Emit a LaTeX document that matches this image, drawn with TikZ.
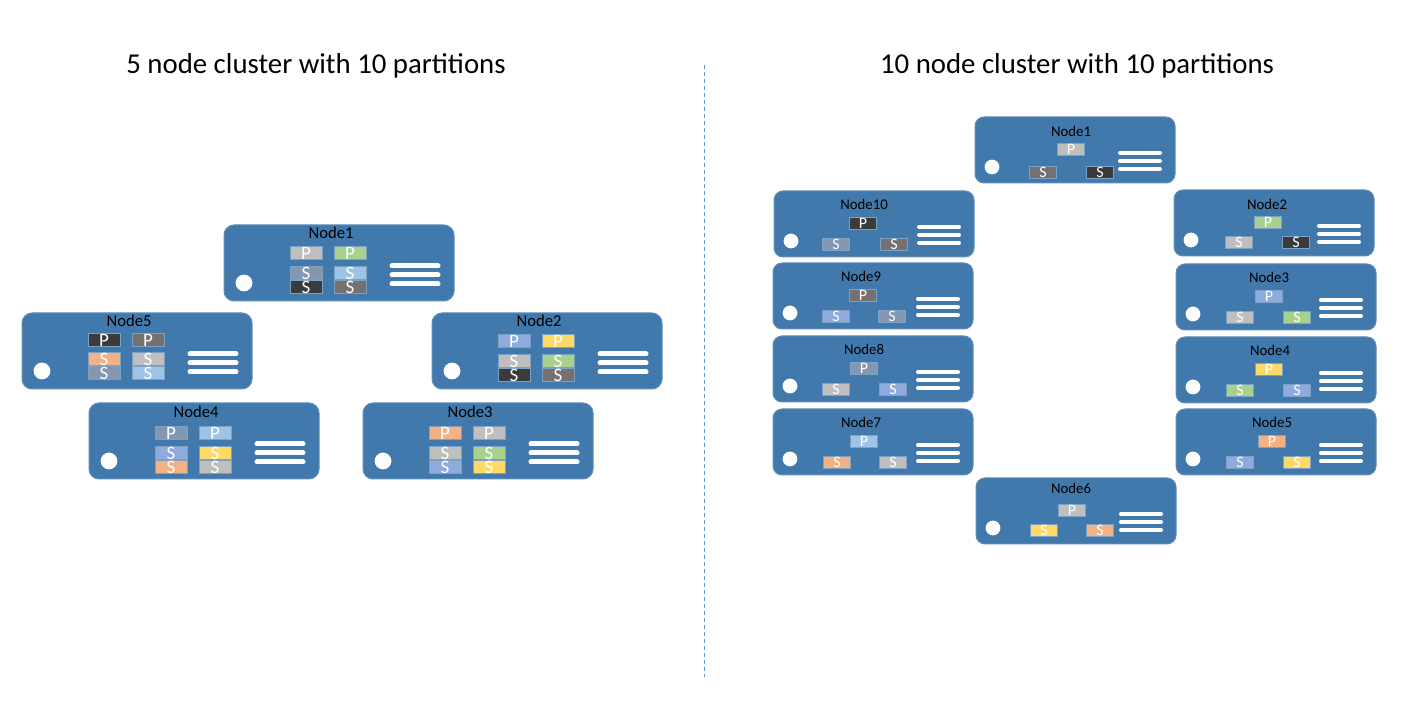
\documentclass[tikz,border=0pt]{standalone}
\usepackage{fontspec}
\setmainfont{Carlito}
\usetikzlibrary{calc}
\definecolor{srvblue}{HTML}{4279AC}
\definecolor{cgray}{HTML}{BFBFBF}
\definecolor{cgreen}{HTML}{A9D18E}
\definecolor{cslate}{HTML}{8497B0}
\definecolor{csky}{HTML}{9DC3E6}
\definecolor{cdark}{HTML}{3B3B3B}
\definecolor{cdim}{HTML}{767171}
\definecolor{corange}{HTML}{F4B183}
\definecolor{cblue}{HTML}{8FAADC}
\definecolor{cyellow}{HTML}{FFD966}
\definecolor{dashblue}{HTML}{5B9BD5}

\begin{document}
\begin{tikzpicture}[x=0.5pt,y=-0.5pt,
    lsrv/.style={draw=srvblue!85!white,line width=0.5pt,fill=srvblue,rounded corners=5pt,minimum width=115pt,minimum height=38pt,inner sep=0,outer sep=0,anchor=north west},
    rsrv/.style={lsrv,minimum width=100pt,minimum height=33pt,rounded corners=4.5pt},
    ltitle/.style={font=\fontsize{8.3}{9}\selectfont,inner sep=0},
    rtitle/.style={font=\fontsize{7.4}{8}\selectfont,inner sep=0},
    lpart/.style={draw=srvblue!70!white,line width=0.3pt,minimum width=16pt,minimum height=6.5pt,inner sep=0,text=white,font=\fontsize{9.5}{8}\selectfont},
    rpart/.style={lpart,minimum width=13.5pt,minimum height=6pt,font=\fontsize{8}{7}\selectfont},
    lbar/.style={white,line width=2.5pt,line cap=round},
    rbar/.style={white,line width=2pt,line cap=round},
    heading/.style={font=\fontsize{14.4}{16}\selectfont,inner sep=0}]
  \fill[white] (0,0) rectangle (1410,705);
  \useasboundingbox (0,0) rectangle (1410,705);
  % titles and divider
  \node[heading] (lhead) at (316,66) {5 node cluster with 10 partitions};
  \node[heading] (rhead) at (1077,66) {10 node cluster with 10 partitions};
  \coordinate (dtop) at (704,65);
  \coordinate (dbot) at (704,677);
  \draw[dashblue,line width=0.5pt,dash pattern=on 2pt off 1.5pt] (dtop) -- (dbot);
  % 5 node cluster
  \draw (224,225) node [lsrv] (l1) {}
    ($(l1.north west)+(107,8)$) node [ltitle] (l1t) {Node1}
    ($(l1.north west)+(82,28)$) node [lpart,fill=cgray] (l1p1) {P}
    ($(l1.north west)+(126,28)$) node [lpart,fill=cgreen] (l1p2) {P}
    ($(l1.north west)+(82,48)$) node [lpart,fill=cslate] (l1s1) {S}
    ($(l1.north west)+(126,48)$) node [lpart,fill=csky] (l1s2) {S}
    ($(l1.north west)+(82,62)$) node [lpart,fill=cdark] (l1s3) {S}
    ($(l1.north west)+(126,62)$) node [lpart,fill=cdim] (l1s4) {S};
  \draw (432,313) node [lsrv] (l2) {}
    ($(l2.north west)+(107,8)$) node [ltitle] (l2t) {Node2}
    ($(l2.north west)+(82,28)$) node [lpart,fill=cblue] (l2p1) {P}
    ($(l2.north west)+(126,28)$) node [lpart,fill=cyellow] (l2p2) {P}
    ($(l2.north west)+(82,48)$) node [lpart,fill=cgray] (l2s1) {S}
    ($(l2.north west)+(126,48)$) node [lpart,fill=cgreen] (l2s2) {S}
    ($(l2.north west)+(82,62)$) node [lpart,fill=cdark] (l2s3) {S}
    ($(l2.north west)+(126,62)$) node [lpart,fill=cdim] (l2s4) {S};
  \draw (363,403) node [lsrv] (l3) {}
    ($(l3.north west)+(107,9)$) node [ltitle] (l3t) {Node3}
    ($(l3.north west)+(82,30)$) node [lpart,fill=corange] (l3p1) {P}
    ($(l3.north west)+(126,30)$) node [lpart,fill=cgray] (l3p2) {P}
    ($(l3.north west)+(82,50)$) node [lpart,fill=cgray] (l3s1) {S}
    ($(l3.north west)+(126,50)$) node [lpart,fill=cgreen] (l3s2) {S}
    ($(l3.north west)+(82,64)$) node [lpart,fill=cblue] (l3s3) {S}
    ($(l3.north west)+(126,64)$) node [lpart,fill=cyellow] (l3s4) {S};
  \draw (89,403) node [lsrv] (l4) {}
    ($(l4.north west)+(107,9)$) node [ltitle] (l4t) {Node4}
    ($(l4.north west)+(82,30)$) node [lpart,fill=cslate] (l4p1) {P}
    ($(l4.north west)+(126,30)$) node [lpart,fill=csky] (l4p2) {P}
    ($(l4.north west)+(82,50)$) node [lpart,fill=cblue] (l4s1) {S}
    ($(l4.north west)+(126,50)$) node [lpart,fill=cyellow] (l4s2) {S}
    ($(l4.north west)+(82,64)$) node [lpart,fill=corange] (l4s3) {S}
    ($(l4.north west)+(126,64)$) node [lpart,fill=cgray] (l4s4) {S};
  \draw (22,313) node [lsrv] (l5) {}
    ($(l5.north west)+(107,8)$) node [ltitle] (l5t) {Node5}
    ($(l5.north west)+(82,27)$) node [lpart,fill=cdark] (l5p1) {P}
    ($(l5.north west)+(126,27)$) node [lpart,fill=cdim] (l5p2) {P}
    ($(l5.north west)+(82,46)$) node [lpart,fill=corange] (l5s1) {S}
    ($(l5.north west)+(126,46)$) node [lpart,fill=cgray] (l5s2) {S}
    ($(l5.north west)+(82,60)$) node [lpart,fill=cslate] (l5s3) {S}
    ($(l5.north west)+(126,60)$) node [lpart,fill=csky] (l5s4) {S};
  \foreach \s in {l1,l2,l3,l4,l5} {
    \fill[white] ($(\s.north west)+(20,58)$) circle [radius=4.2pt];
    \foreach \y in {41,50,59}
      \draw[lbar] ($(\s.north west)+(168,\y)$) -- ++(46,0);
  }
  % 10 node cluster
  \draw (975,117) node [rsrv] (r1) {}
    ($(r1.north west)+(96,14)$) node [rtitle] (r1t) {Node1}
    ($(r1.north west)+(96,32)$) node [rpart,fill=cgray] (r1p) {P}
    ($(r1.north west)+(68,55)$) node [rpart,fill=cdim] (r1s1) {S}
    ($(r1.north west)+(125,55)$) node [rpart,fill=cdark] (r1s2) {S};
  \draw (1174,190) node [rsrv] (r2) {}
    ($(r2.north west)+(93,14)$) node [rtitle] (r2t) {Node2}
    ($(r2.north west)+(94,32)$) node [rpart,fill=cgreen] (r2p) {P}
    ($(r2.north west)+(65,52)$) node [rpart,fill=cgray] (r2s1) {S}
    ($(r2.north west)+(122,52)$) node [rpart,fill=cdark] (r2s2) {S};
  \draw (1176,264) node [rsrv] (r3) {}
    ($(r3.north west)+(93,13)$) node [rtitle] (r3t) {Node3}
    ($(r3.north west)+(93,32)$) node [rpart,fill=cblue] (r3p) {P}
    ($(r3.north west)+(64,53)$) node [rpart,fill=cgray] (r3s1) {S}
    ($(r3.north west)+(121,53)$) node [rpart,fill=cgreen] (r3s2) {S};
  \draw (1176,337) node [rsrv] (r4) {}
    ($(r4.north west)+(94,13)$) node [rtitle] (r4t) {Node4}
    ($(r4.north west)+(93,32)$) node [rpart,fill=cyellow] (r4p) {P}
    ($(r4.north west)+(64,53)$) node [rpart,fill=cgreen] (r4s1) {S}
    ($(r4.north west)+(121,53)$) node [rpart,fill=cblue] (r4s2) {S};
  \draw (1176,409) node [rsrv] (r5) {}
    ($(r5.north west)+(96,13)$) node [rtitle] (r5t) {Node5}
    ($(r5.north west)+(96,32)$) node [rpart,fill=corange] (r5p) {P}
    ($(r5.north west)+(64,53)$) node [rpart,fill=cblue] (r5s1) {S}
    ($(r5.north west)+(121,53)$) node [rpart,fill=cyellow] (r5s2) {S};
  \draw (976,478) node [rsrv] (r6) {}
    ($(r6.north west)+(95,10)$) node [rtitle] (r6t) {Node6}
    ($(r6.north west)+(96,32)$) node [rpart,fill=cgray] (r6p) {P}
    ($(r6.north west)+(68,52)$) node [rpart,fill=cyellow] (r6s1) {S}
    ($(r6.north west)+(124,52)$) node [rpart,fill=corange] (r6s2) {S};
  \draw (773,409) node [rsrv] (r7) {}
    ($(r7.north west)+(88,13)$) node [rtitle] (r7t) {Node7}
    ($(r7.north west)+(91,32)$) node [rpart,fill=csky] (r7p) {P}
    ($(r7.north west)+(64,53)$) node [rpart,fill=corange] (r7s1) {S}
    ($(r7.north west)+(120,53)$) node [rpart,fill=cgray] (r7s2) {S};
  \draw (773,336) node [rsrv] (r8) {}
    ($(r8.north west)+(91,13)$) node [rtitle] (r8t) {Node8}
    ($(r8.north west)+(91,32)$) node [rpart,fill=cslate] (r8p) {P}
    ($(r8.north west)+(63,53)$) node [rpart,fill=cgray] (r8s1) {S}
    ($(r8.north west)+(120,53)$) node [rpart,fill=cblue] (r8s2) {S};
  \draw (773,263) node [rsrv] (r9) {}
    ($(r9.north west)+(88,13)$) node [rtitle] (r9t) {Node9}
    ($(r9.north west)+(90,32)$) node [rpart,fill=cdim] (r9p) {P}
    ($(r9.north west)+(63,53)$) node [rpart,fill=cblue] (r9s1) {S}
    ($(r9.north west)+(119,53)$) node [rpart,fill=cslate] (r9s2) {S};
  \draw (774,191) node [rsrv] (r10) {}
    ($(r10.north west)+(90,13)$) node [rtitle] (r10t) {Node10}
    ($(r10.north west)+(89,32)$) node [rpart,fill=cdark] (r10p) {P}
    ($(r10.north west)+(62,53)$) node [rpart,fill=cslate] (r10s1) {S}
    ($(r10.north west)+(120,53)$) node [rpart,fill=cdim] (r10s2) {S};
  \foreach \s in {r1,r2,r3,r4,r5,r6,r7,r8,r9,r10} {
    \fill[white] ($(\s.north west)+(17,50)$) circle [radius=3.7pt];
    \foreach \y in {36,44,52}
      \draw[rbar] ($(\s.north west)+(145,\y)$) -- ++(40,0);
  }
\end{tikzpicture}
\end{document}
